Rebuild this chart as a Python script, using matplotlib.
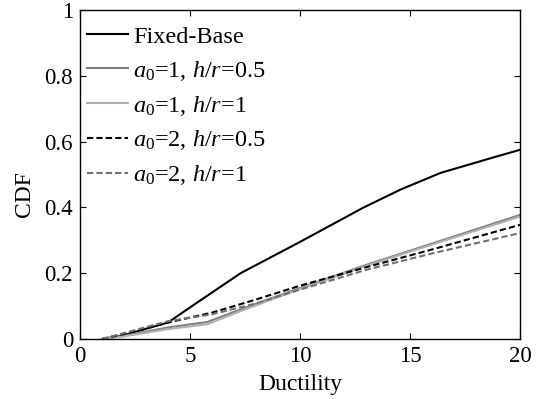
import matplotlib
matplotlib.use("Agg")
import matplotlib.pyplot as plt

plt.rcParams['font.family'] = ['Liberation Serif', 'DejaVu Serif']
plt.rcParams['mathtext.fontset'] = 'custom'
plt.rcParams['mathtext.rm'] = 'Liberation Serif'
plt.rcParams['mathtext.it'] = 'Liberation Serif:italic'

# Data
x_fixed = [1.0, 2.0, 4.0, 5.2, 7.3, 10.0, 12.9, 14.6, 16.4, 18.8, 20.0]
y_fixed = [0.0, 0.012, 0.05, 0.105, 0.2, 0.295, 0.40, 0.455, 0.505, 0.552, 0.575]

x_a1h05 = [1.0, 2.0, 4.0, 5.8, 7.5, 10.0, 13.0, 16.0, 20.0]
y_a1h05 = [0.0, 0.01, 0.035, 0.052, 0.095, 0.155, 0.225, 0.29, 0.377]

x_a1h1 = [1.0, 2.0, 4.0, 5.8, 7.5, 10.0, 13.0, 16.0, 20.0]
y_a1h1 = [0.0, 0.008, 0.03, 0.045, 0.09, 0.152, 0.222, 0.287, 0.372]

x_a2h05 = [1.0, 2.0, 4.0, 6.0, 8.0, 10.0, 13.0, 16.0, 20.0]
y_a2h05 = [0.0, 0.015, 0.05, 0.08, 0.12, 0.162, 0.218, 0.272, 0.347]

x_a2h1 = [1.0, 2.0, 4.0, 6.0, 8.0, 10.0, 13.0, 16.0, 20.0]
y_a2h1 = [0.0, 0.018, 0.054, 0.075, 0.108, 0.15, 0.21, 0.26, 0.322]

labels = ['Fixed-Base',
          r'$a_0$=1, $h/r$=0.5',
          r'$a_0$=1, $h/r$=1',
          r'$a_0$=2, $h/r$=0.5',
          r'$a_0$=2, $h/r$=1']

fig = plt.figure(figsize=(5.39, 3.99), dpi=100)
ax = fig.add_axes([0.1484, 0.1504, 0.8163, 0.8246])

ax.plot(x_fixed, y_fixed, color='black', lw=1.5, ls='-', label=labels[0])
ax.plot(x_a1h05, y_a1h05, color='#808080', lw=1.5, ls='-', label=labels[1])
ax.plot(x_a1h1, y_a1h1, color='#b0b0b0', lw=1.5, ls='-', label=labels[2])
ax.plot(x_a2h05, y_a2h05, color='black', lw=1.5, ls=(0, (3, 1.5)), label=labels[3])
ax.plot(x_a2h1, y_a2h1, color='#707070', lw=1.5, ls=(0, (3, 1.5)), label=labels[4])

ax.set_xlim(0, 20)
ax.set_ylim(0, 1)
ax.set_xticks([0, 5, 10, 15, 20])
ax.set_yticks([0, 0.2, 0.4, 0.6, 0.8, 1])
ax.set_yticklabels(['0', '0.2', '0.4', '0.6', '0.8', '1'])
ax.tick_params(direction='in', top=True, right=True, labelsize=16.5, length=4, width=0.8)
ax.tick_params(axis='x', pad=5)
ax.tick_params(axis='y', pad=5)
for s in ax.spines.values():
    s.set_linewidth(1.0)

ax.set_xlabel('Ductility', fontsize=17, labelpad=5)
ax.set_ylabel('CDF', fontsize=17)
ax.yaxis.set_label_coords(-0.102, 0.44)

ax.legend(loc='upper left', frameon=False, fontsize=17.5, handlelength=1.7,
          handletextpad=0.2, labelspacing=0.45, borderaxespad=0.0,
          bbox_to_anchor=(-0.006, 0.982))

fig.savefig('out.png', dpi=100)
